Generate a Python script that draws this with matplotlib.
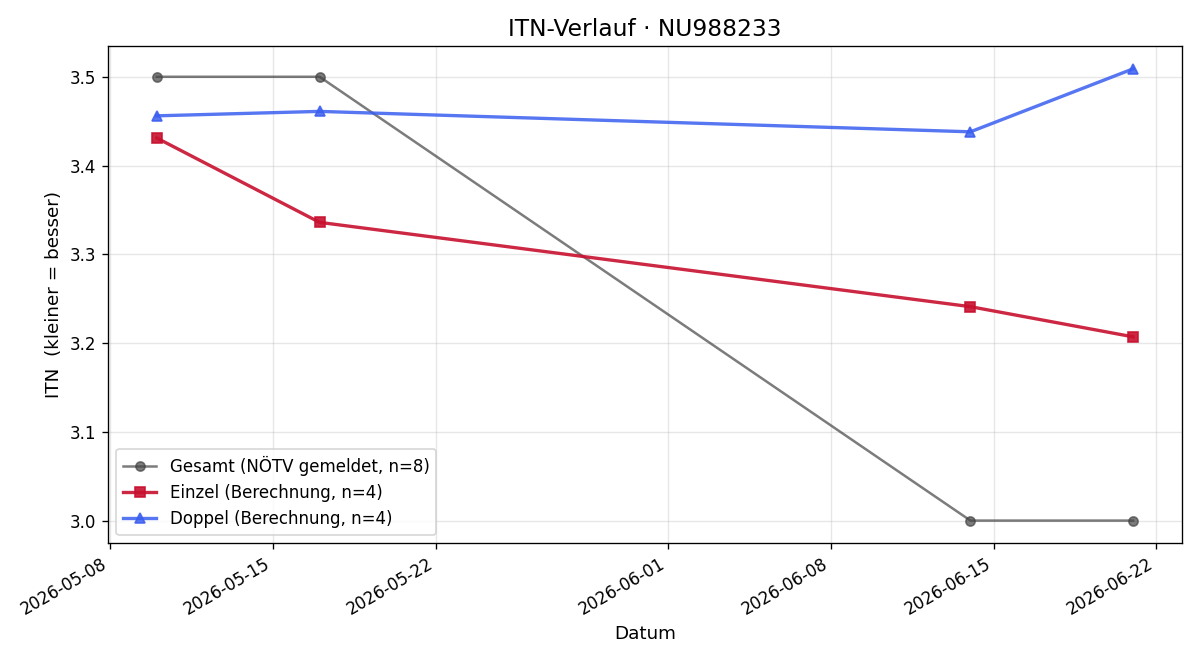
import datetime as dt
import matplotlib
matplotlib.use("Agg")
import matplotlib.pyplot as plt

# Spieltermine und ITN-Werte
dates_gesamt = ["2026-05-10", "2026-05-17", "2026-06-14", "2026-06-21"]
itn_gesamt = [3.5, 3.5, 3.0, 3.0]

dates_einzel = ["2026-05-10", "2026-05-17", "2026-06-14", "2026-06-21"]
itn_einzel = [3.431, 3.336, 3.241, 3.207]

dates_doppel = ["2026-05-10", "2026-05-17", "2026-06-14", "2026-06-21"]
itn_doppel = [3.456, 3.461, 3.438, 3.509]


def to_dates(values):
    return [dt.datetime.strptime(v, "%Y-%m-%d") for v in values]


fig, ax = plt.subplots(figsize=(10, 5.5), dpi=120)

ax.plot(to_dates(dates_gesamt), itn_gesamt, marker="o", color="#444444",
        alpha=0.7, linewidth=1.5, markersize=5.5, label="Gesamt (NÖTV gemeldet, n=8)")
ax.plot(to_dates(dates_einzel), itn_einzel, marker="s", color="#c8102e",
        alpha=0.9, linewidth=2.0, markersize=6, label="Einzel (Berechnung, n=4)")
ax.plot(to_dates(dates_doppel), itn_doppel, marker="^", color="#3a5ef0",
        alpha=0.85, linewidth=2.0, markersize=6, label="Doppel (Berechnung, n=4)")

ax.set_title("ITN-Verlauf · NU988233", fontsize=14)
ax.set_xlabel("Datum", fontsize=11)
ax.set_ylabel("ITN  (kleiner = besser)", fontsize=11)
ax.tick_params(labelsize=10)
ax.grid(True, alpha=0.3)
ax.legend(loc="lower left", fontsize=10)
fig.autofmt_xdate()

fig.subplots_adjust(left=0.09, right=0.985, top=0.930, bottom=0.177)
fig.savefig("out.png")
